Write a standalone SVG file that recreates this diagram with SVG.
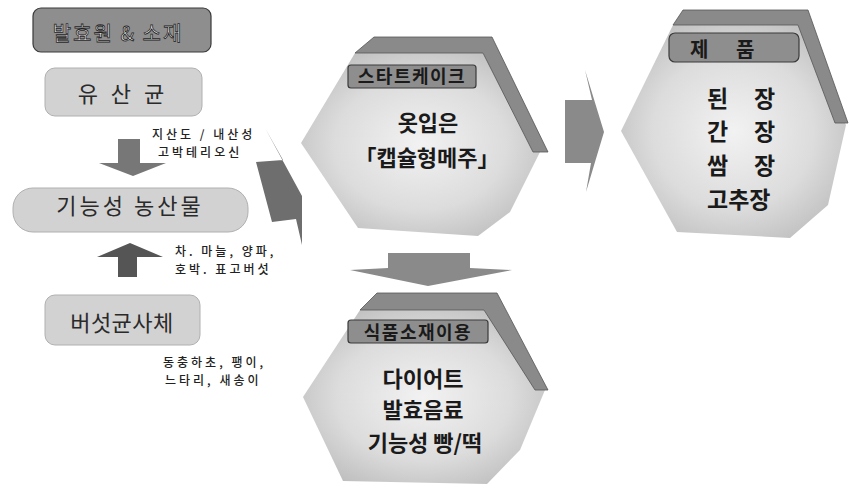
<svg xmlns="http://www.w3.org/2000/svg" width="849" height="488" viewBox="0 0 849 488">
<style>
text{font-family:"Noto Sans CJK KR","Noto Sans",sans-serif;fill:#1a1a1a}
.darkbox{fill:#8e8e8e;stroke:#3a3a3a;stroke-width:1.2}
.lightbox{fill:#d2d2d2;stroke:#b0b0b0;stroke-width:1}
.band{fill:#8a8a8a;stroke:#555;stroke-width:0.8}
.hexbody{fill:url(#hexg)}
.big{font-size:22px;font-weight:700}
.box{font-size:22px;fill:#2a2a2a}
.small{font-size:12px;letter-spacing:3px;fill:#222;font-weight:500}
.lab{font-size:18px;font-weight:700;letter-spacing:1.5px}
</style>
<defs>
<radialGradient id="hexg" cx="0.5" cy="0.5" r="0.6">
<stop offset="0" stop-color="#f2f2f2"/>
<stop offset="0.6" stop-color="#dcdcdc"/>
<stop offset="1" stop-color="#bdbdbd"/>
</radialGradient>
</defs>
<rect width="849" height="488" fill="#ffffff"/>

<g id="connectors">
<polygon points="118,139 140,139 140,163 166,163 133,176 99,163 118,163" fill="#777"/>
<polygon points="130,243 163,257 137,257 137,277 118,277 118,257 97,257" fill="#555"/>
<polygon points="265,128 302,196 302,245 296,219 272,222 256,162 283,160" fill="#6e6e6e"/>
<polygon points="585,70 604,132 586,192 591,163 565,163 565,100 592,100" fill="#8a8a8a"/>
<polygon points="388,253 470,253 470,268 512,270 428,286 350,270 388,268" fill="#8a8a8a"/>
</g>

<g id="node-source">
<rect class="darkbox" x="33" y="8" width="178" height="44" rx="8"/>
<text x="118" y="41" text-anchor="middle" style="font-size:20px;letter-spacing:2px;fill:#f4f4f4;stroke:#222;stroke-width:0.8">발효원 &amp; 소재</text>
</g>

<g id="node-lactic">
<rect class="lightbox" x="45" y="68" width="157" height="48" rx="10"/>
<text class="box" x="123" y="102" text-anchor="middle" style="letter-spacing:4px">유 산 균</text>
</g>

<g id="label-lactic">
<text class="small" x="152" y="139">지산도 / 내산성</text>
<text class="small" x="158" y="156.5">고박테리오신</text>
</g>

<g id="node-agri">
<rect class="lightbox" x="13" y="188" width="235" height="44" rx="20"/>
<text class="box" x="130" y="214" text-anchor="middle" style="letter-spacing:3px">기능성 농산물</text>
</g>

<g id="label-agri">
<text class="small" x="175" y="256">차. 마늘, 양파,</text>
<text class="small" x="175" y="273.5">호박. 표고버섯</text>
</g>

<g id="node-mushroom">
<rect class="lightbox" x="45" y="295" width="155" height="50" rx="10"/>
<text class="box" x="122" y="331" text-anchor="middle" style="letter-spacing:0.5px">버섯균사체</text>
</g>

<g id="label-mushroom">
<text class="small" x="163" y="367">동충하초, 팽이,</text>
<text class="small" x="165" y="384.5">느타리, 새송이</text>
</g>

<g id="node-starter">
<polygon class="hexbody" points="301,143 355,53 483,53 540,152 510,212 478,236 358,228"/>
<polygon class="band" points="355,53 374,37 492,37 548,152 533,152 483,53"/>
<rect class="darkbox" x="348" y="65" width="128" height="23" rx="3"/>
<text class="lab" x="412" y="83" text-anchor="middle">스타트케이크</text>
<text class="big" x="428" y="131" text-anchor="middle">옷입은</text>
<text class="big" x="427" y="166" text-anchor="middle">「캡슐형메주」</text>
</g>

<g id="node-food">
<polygon class="hexbody" points="303,397 360,310 484,310 545,390 520,450 487,484 343,481"/>
<polygon class="band" points="360,310 377,293 497,293 548,390 535,390 484,310"/>
<rect class="darkbox" x="348" y="320" width="140" height="23" rx="3"/>
<text class="lab" x="418" y="339" text-anchor="middle">식품소재이용</text>
<text class="big" x="423" y="387" text-anchor="middle">다이어트</text>
<text class="big" x="423" y="418" text-anchor="middle">발효음료</text>
<text class="big" x="425" y="451" text-anchor="middle">기능성 빵/떡</text>
</g>

<g id="node-product">
<polygon class="hexbody" points="621,131 673,25 798,25 846,125 828,205 790,238 677,232"/>
<polygon class="band" points="673,25 683,10 808,10 848,123 835,123 798,25"/>
<rect class="darkbox" x="669" y="33" width="130" height="29" rx="6"/>
<text style="font-size:20px;font-weight:700" y="57"><tspan x="690">제</tspan><tspan x="736">품</tspan></text>
<text class="big" y="107" style="font-size:23px"><tspan x="707">된</tspan><tspan x="754">장</tspan></text>
<text class="big" y="140" style="font-size:23px"><tspan x="707">간</tspan><tspan x="754">장</tspan></text>
<text class="big" y="174" style="font-size:23px"><tspan x="707">쌈</tspan><tspan x="754">장</tspan></text>
<text class="big" x="707" y="208" style="font-size:23px">고추장</text>
</g>
</svg>
